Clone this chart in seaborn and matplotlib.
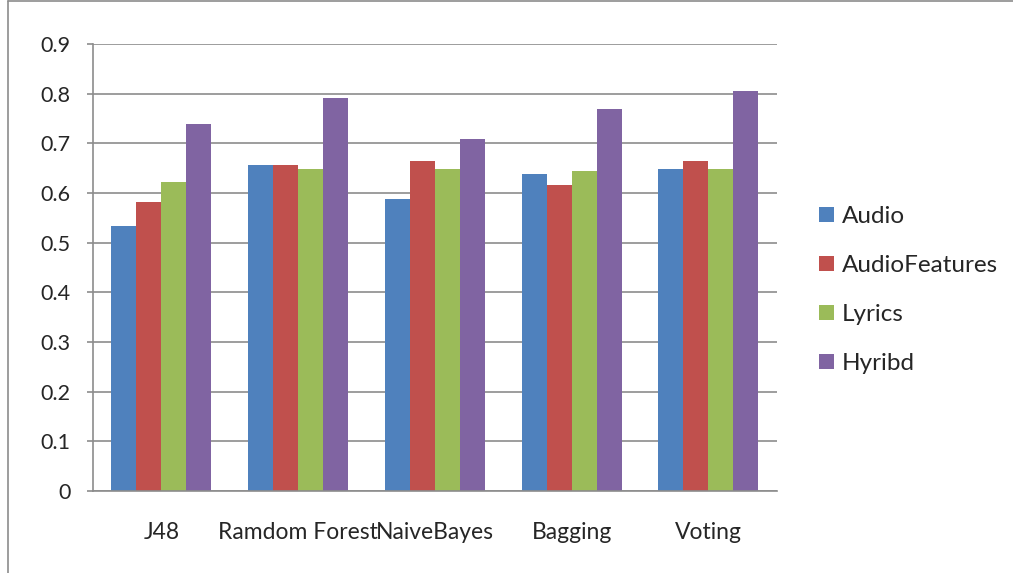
import matplotlib
matplotlib.use("Agg")
import matplotlib.pyplot as plt
from matplotlib.lines import Line2D
import numpy as np
import pandas as pd
import seaborn as sns

categories = ["J48", "Ramdom Forest", "NaiveBayes", "Bagging", "Voting"]
series = ["Audio", "AudioFeatures", "Lyrics", "Hyribd"]
audio = [0.534, 0.656, 0.589, 0.639, 0.649]
audio_features = [0.582, 0.657, 0.665, 0.616, 0.665]
lyrics = [0.622, 0.649, 0.648, 0.644, 0.649]
hybrid = [0.740, 0.791, 0.709, 0.769, 0.806]
colors = ["#4F81BD", "#C0504D", "#9BBB59", "#8064A2"]
y_ticks = [0, 0.1, 0.2, 0.3, 0.4, 0.5, 0.6, 0.7, 0.8, 0.9]

df = pd.DataFrame({
    "Classifier": categories * 4,
    "Set": sum([[s] * len(categories) for s in series], []),
    "Score": audio + audio_features + lyrics + hybrid,
})

sns.set_style("white")
plt.rcParams["font.family"] = ["Lato", "DejaVu Sans"]

fig = plt.figure(figsize=(10.13, 5.73), dpi=100)
ax = fig.add_axes([0.0918, 0.143, 0.675, 0.780])

sns.barplot(data=df, x="Classifier", y="Score", hue="Set", order=categories,
            hue_order=series, palette=colors, width=0.73, saturation=1,
            errorbar=None, ax=ax, legend=True, edgecolor="none")

ax.set_ylim(0, 0.9)
ax.set_xlim(-0.5, len(categories) - 0.5)
ax.set_yticks(y_ticks)
ax.set_yticklabels(["0" if v == 0 else f"{v:.1f}" for v in y_ticks], fontsize=15.5)
ax.yaxis.grid(True, color="#8C8C8C", linewidth=1.2)
ax.set_axisbelow(True)
ax.set_xlabel("")
ax.set_ylabel("")

for side in ["top", "right"]:
    ax.spines[side].set_visible(False)
for side in ["left", "bottom"]:
    ax.spines[side].set_color("#8C8C8C")
    ax.spines[side].set_linewidth(1.2)

ax.set_xticks(range(len(categories)))
ax.set_xticklabels(categories, fontsize=16.5)
ax.set_xticks(np.arange(-0.5, len(categories)), minor=True)
ax.tick_params(axis="x", which="major", length=0, pad=22)
ax.tick_params(axis="x", which="minor", length=6, width=1.2, color="#8C8C8C",
               direction="out")
ax.tick_params(axis="y", length=4, width=1.2, color="#8C8C8C", direction="out",
               left=True, pad=12)

handles, labels = ax.get_legend_handles_labels()
ax.legend_.remove()
fig.legend(handles, labels, loc="center left", bbox_to_anchor=(0.787, 0.494),
           frameon=False, fontsize=17.5, handlelength=0.6, handleheight=0.6,
           handletextpad=0.35, labelspacing=1.15)

# outer chart frame
fig.add_artist(Line2D([0.008, 0.008], [0, 0.998], transform=fig.transFigure,
                      color="#8C8C8C", linewidth=1.2))
fig.add_artist(Line2D([0.008, 1.0], [0.998, 0.998], transform=fig.transFigure,
                      color="#8C8C8C", linewidth=1.2))

fig.savefig("out.png", dpi=100)
